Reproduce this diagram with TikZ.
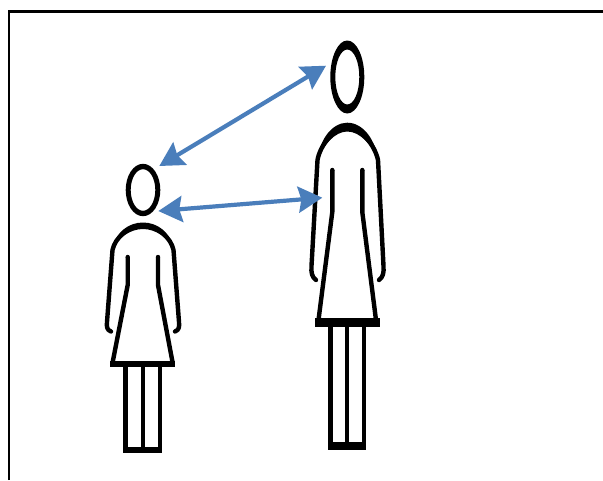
\documentclass[tikz,border=0pt]{standalone}
\usepackage{xcolor}
\usetikzlibrary{arrows.meta}
\definecolor{arrowblue}{HTML}{4A7EBB}
\tikzset{
  outline/.style={black,line width=4.4pt,line cap=round,line join=round},
  bluearrow/.style={arrowblue,line width=4.2pt,{Stealth[length=24pt,width=26pt,inset=3pt]}-{Stealth[length=24pt,width=26pt,inset=3pt]}}
}
\begin{document}
\begin{tikzpicture}[x=1pt,y=-1pt]
  \useasboundingbox (0,0) rectangle (603,480);
  % frame
  \draw[black,line width=2.4pt] (9,480) -- (9,11.5) -- (603,11.5);

  % small woman
  \fill[black,even odd rule] (143,190) ellipse [x radius=17.3,y radius=26.2]
        (143,190) ellipse [x radius=12.3,y radius=20.8];
  \draw[outline] (111,331.5) .. controls (107,330) and (106.5,327) .. (107,322) -- (112.5,250)
        .. controls (115,238) and (128,226) .. (143,226)
        .. controls (158,226) and (171,238) .. (173.5,250) -- (179,322)
        .. controls (179.5,327) and (179,330) .. (175,331.5);
  \fill[black] (113,249) .. controls (115,233) and (128,222.5) .. (143,222.5)
        .. controls (158,222.5) and (171,233) .. (173,249)
        .. controls (168,238) and (156,229) .. (143,229)
        .. controls (130,229) and (118,238) .. (113,249) -- cycle;
  \draw[outline,line cap=butt] (127.7,257) -- (127.7,285) -- (112.7,362);
  \draw[outline,line cap=butt] (158,257) -- (158,285) -- (172.5,362);
  \fill[black] (127.7,257) circle (2.2) (158,257) circle (2.2);
  \fill[black] (110,360.8) rectangle (175.3,366.7);
  \fill[black] (123.3,366) rectangle (127.9,453);
  \fill[black] (157.6,366) rectangle (162.2,453);
  \fill[black] (123.3,446.7) rectangle (162.2,453);
  \fill[black] (140.8,366) rectangle (144.8,447);

  % tall woman
  \fill[black,even odd rule] (347.3,77) ellipse [x radius=17,y radius=36.5]
        (347.3,77) ellipse [x radius=12,y radius=27.5];
  \draw[outline] (316,280) .. controls (312,277) and (311,273) .. (311.5,266) -- (317.5,160)
        .. controls (320,146) and (333,128) .. (347.3,128)
        .. controls (362,128) and (375,146) .. (378,160) -- (383.5,266)
        .. controls (384,273) and (383,277) .. (379,280);
  \fill[black] (318,160) .. controls (319,140) and (332,122.7) .. (347.3,122.7)
        .. controls (363,122.7) and (376,140) .. (377.5,160)
        .. controls (372,145) and (360,131.5) .. (347.3,131.5)
        .. controls (335,131.5) and (323,145) .. (318,160) -- cycle;
  \draw[outline,line cap=butt] (332.3,170) -- (332.3,212) -- (318.5,320);
  \draw[outline,line cap=butt] (362.3,170) -- (362.3,212) -- (376,320);
  \fill[black] (332.3,170) circle (2.2) (362.3,170) circle (2.2);
  \fill[black] (315,317.5) rectangle (379.5,326.7);
  \fill[black] (328.3,326) rectangle (332.9,450);
  \fill[black] (361.7,326) rectangle (366.3,450);
  \fill[black] (328.3,441.7) rectangle (366.3,450);
  \fill[black] (345.2,326) rectangle (349.4,442);

  % arrows
  \coordinate (headsmall) at (159.3,166);
  \coordinate (necksmall) at (158.3,211);
  \coordinate (headtall) at (326,65.7);
  \coordinate (bodytall) at (322.3,197.7);
  \draw[bluearrow] (headsmall) -- (headtall);
  \draw[bluearrow] (necksmall) -- (bodytall);
\end{tikzpicture}
\end{document}
